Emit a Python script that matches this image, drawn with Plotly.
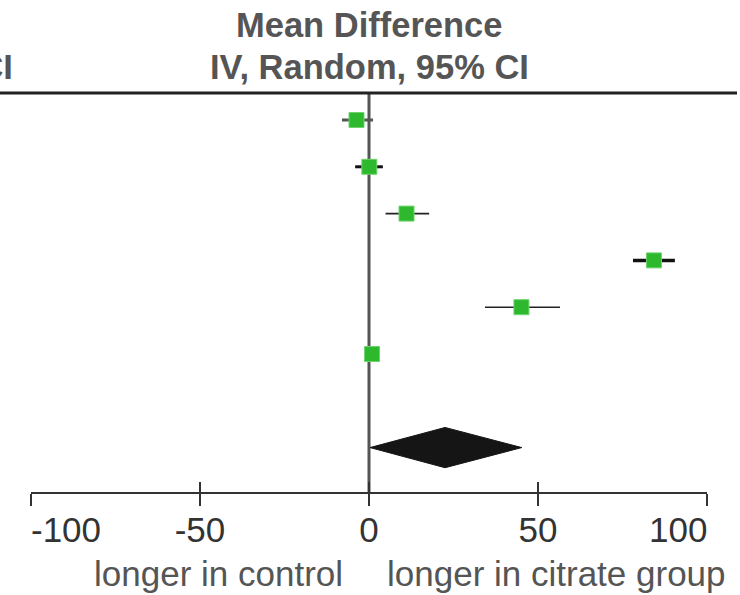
import plotly.graph_objects as go

# ---- data ----
study_rows = [1, 2, 3, 4, 5, 6]
md = [-3.7, 0.1, 11.1, 84.3, 45.1, 0.9]
ci_lo = [-8.0, -4.1, 4.9, 78.1, 34.3, -0.5]
ci_hi = [1.2, 4.1, 17.8, 90.5, 56.5, 2.3]
pooled_row = 8
pooled = [0.3, 22.5, 45.2]  # lower, estimate, upper
tick_vals = [-100, -50, 0, 50, 100]
tick_text = ["-100", "-50", "0", "50", "100"]
header_lines = ["Mean Difference", "IV, Random, 95% CI"]
left_label = "longer in control"
right_label = "longer in citrate group"

# ---- styling ----
W, H = 740, 595
ci_widths = [3, 3, 1.6, 3.5, 1.6, 1.6]
ci_colors = ["#555555", "#111111", "#222222", "#111111", "#222222", "#222222"]
green = "#2DB82D"
FONT = "Liberation Sans, Arial, sans-serif"
TICK_FONT = dict(family=FONT, size=35, color="#333333")

def py(px):  # pixel y -> paper y
    return 1 - px / H

fig = go.Figure()

# CI lines
for r, lo, hi, w, c in zip(study_rows, ci_lo, ci_hi, ci_widths, ci_colors):
    fig.add_trace(go.Scatter(x=[lo, hi], y=[r, r], mode="lines",
                             line=dict(color=c, width=w), hoverinfo="skip",
                             showlegend=False))

# study squares
fig.add_trace(go.Scatter(x=md, y=study_rows, mode="markers",
                         marker=dict(symbol="square", size=15, color=green,
                                     line=dict(color="#6fd46f", width=1)),
                         showlegend=False))

# pooled diamond
half = 0.43
lo, est, hi = pooled
fig.add_trace(go.Scatter(x=[lo, est, hi, est, lo],
                         y=[pooled_row, pooled_row - half, pooled_row,
                            pooled_row + half, pooled_row],
                         mode="lines", fill="toself", fillcolor="#151515",
                         line=dict(color="#151515", width=1), showlegend=False))

# helper trace for the upward tick axis (invisible)
fig.add_trace(go.Scatter(x=[tick_vals[0], tick_vals[-1]], y=[None, None],
                         xaxis="x2", yaxis="y", mode="markers",
                         showlegend=False))

# inner tick labels are drawn by the axis; the two end labels are
# aligned to the axis ends (left / right) like the original
axis_ticktext = [""] + tick_text[1:-1] + [""]

axis_y = py(493)
fig.update_layout(
    template="none",
    width=W, height=H, autosize=False,
    margin=dict(l=0, r=0, t=0, b=0, pad=0, autoexpand=False),
    paper_bgcolor="white", plot_bgcolor="white",
    showlegend=False,
    xaxis=dict(domain=[31 / W, 707 / W], range=[-100, 100],
               anchor="free", position=axis_y, automargin=False,
               showline=True, linecolor="#333333", linewidth=2,
               ticks="outside", ticklen=12, tickwidth=2, tickcolor="#333333",
               tickvals=tick_vals, ticktext=axis_ticktext,
               ticklabeloverflow="allow", ticklabelstandoff=-6,
               tickfont=TICK_FONT,
               showgrid=False, zeroline=False, fixedrange=True),
    xaxis2=dict(domain=[31 / W, 707 / W], range=[-100, 100],
                anchor="free", position=axis_y, overlaying="x", side="bottom",
                automargin=False,
                ticks="inside", ticklen=11, tickwidth=2, tickcolor="#333333",
                tickvals=tick_vals, showticklabels=False,
                showline=False, showgrid=False, zeroline=False),
    yaxis=dict(range=[11.15, -1.564], visible=False, domain=[0, 1],
               automargin=False),
)

# end tick labels
fig.add_annotation(x=tick_vals[0], xref="x", y=py(529), yref="paper",
                   text=tick_text[0], showarrow=False, xanchor="left",
                   yanchor="middle", xshift=-2, font=TICK_FONT)
fig.add_annotation(x=tick_vals[-1], xref="x", y=py(529), yref="paper",
                   text=tick_text[-1], showarrow=False, xanchor="right",
                   yanchor="middle", xshift=2, font=TICK_FONT)

# zero line
fig.add_shape(type="line", xref="x", yref="paper", x0=0, x1=0,
              y0=py(93), y1=py(492), line=dict(color="#555555", width=3),
              layer="below")
# top rule
fig.add_shape(type="line", xref="paper", yref="paper", x0=0, x1=737 / W,
              y0=py(93), y1=py(93), line=dict(color="#222222", width=3))

# headers
fig.add_annotation(x=0, xref="x", y=py(25), yref="paper", text=f"<b>{header_lines[0]}</b>",
                   showarrow=False, xanchor="center", yanchor="middle",
                   font=dict(family=FONT, size=34.5, color="#555555"))
fig.add_annotation(x=0, xref="x", y=py(67), yref="paper", text=f"<b>{header_lines[1]}</b>",
                   showarrow=False, xanchor="center", yanchor="middle",
                   font=dict(family=FONT, size=34.5, color="#555555"))
# partial header from the previous column
fig.add_annotation(x=15 / W, xref="paper", y=py(67), yref="paper", text=f"<b>{header_lines[1]}</b>",
                   showarrow=False, xanchor="right", yanchor="middle",
                   font=dict(family=FONT, size=34.5, color="#555555"))

# direction labels
fig.add_annotation(x=-7.1, xref="x", y=py(573), yref="paper", text=left_label,
                   showarrow=False, xanchor="right", yanchor="middle",
                   font=dict(family=FONT, size=35, color="#555555"))
fig.add_annotation(x=4.7, xref="x", y=py(573), yref="paper", text=right_label,
                   showarrow=False, xanchor="left", yanchor="middle",
                   font=dict(family=FONT, size=35, color="#555555"))

post = ("document.body.style.margin='0';document.body.style.padding='0';"
        "document.body.style.overflow='hidden';"
        "document.documentElement.style.overflow='hidden';")
fig.write_html("out.html",
               config={"responsive": False, "displayModeBar": False},
               post_script=post,
               default_width="740px", default_height="595px")
